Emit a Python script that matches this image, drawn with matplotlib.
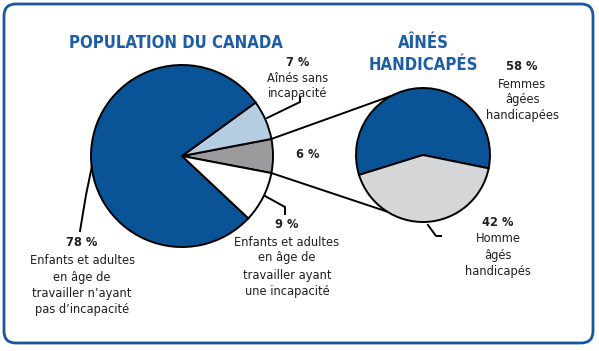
import numpy as np
import matplotlib
matplotlib.use("Agg")
import matplotlib.pyplot as plt
from matplotlib.patches import FancyBboxPatch

# ---- data ----
left_labels = ["Aînés handicapés", "Aînés sans incapacité",
               "Enfants et adultes en âge de travailler n'ayant pas d'incapacité",
               "Enfants et adultes en âge de travailler ayant une incapacité"]
left_values = [6, 7, 78, 9]
right_labels = ["Femmes âgées handicapées", "Homme âgés handicapés"]
right_values = [58, 42]

title_left = "POPULATION DU CANADA"
title_right = "AÎNÉS\nHANDICAPÉS"

plt.rcParams['font.family'] = ["DejaVu Sans"]
plt.rcParams['font.stretch'] = "condensed"

W, H = 599, 351
fig = plt.figure(figsize=(W / 100, H / 100), dpi=100)
ax = fig.add_axes([0, 0, 1, 1])

def Y(y):
    return H - y

DARK = "#0a5396"
LBLUE = "#b5cde0"
GRAY = "#9b9b9d"
LGRAY = "#d5d6d8"
TXT = "#231f20"
TITLE = "#1d5da6"

# left pie
lc = (182, Y(156)); lr = 91
start_l = -left_values[0] / 100 * 360 / 2
ax.pie(left_values, colors=[GRAY, LBLUE, DARK, "white"], startangle=start_l,
       counterclock=True, center=lc, radius=lr,
       wedgeprops=dict(edgecolor="black", linewidth=1.4))

# right pie
rc = (423, Y(155)); rr = 67
ax.pie(right_values, colors=[DARK, LGRAY], startangle=-11.5,
       counterclock=True, center=rc, radius=rr,
       wedgeprops=dict(edgecolor="black", linewidth=1.4))

def pt(c, r, ang):
    a = np.deg2rad(ang)
    return c[0] + r * np.cos(a), c[1] + r * np.sin(a)

# connectors
half = left_values[0] / 100 * 360 / 2
for la, ra in [(half, 117.8), (-half, 237.7)]:
    p1 = pt(lc, lr, la); p2 = pt(rc, rr, ra)
    ax.plot([p1[0], p2[0]], [p1[1], p2[1]], color="black", lw=1.4,
            solid_capstyle="butt")

# leader lines (image coords)
def leader(xs, ys):
    ax.plot(xs, [Y(v) for v in ys], color="black", lw=1.4)

leader([267, 300, 300], [118, 102, 97])
leader([265, 285, 285], [196, 207, 214])
leader([92, 86, 80], [166, 195, 231])
leader([428, 436, 441], [225, 236, 236])

# texts
def block(x, ys, num, lines, size=9.2):
    ax.text(x, Y(ys[0]), num, ha="center", va="center", fontsize=size,
            fontweight="bold", color=TXT)
    for yy, s in zip(ys[1:], lines):
        ax.text(x, Y(yy), s, ha="center", va="center", fontsize=size,
                color=TXT)

block(298, [62, 78, 94], f"{left_values[1]} %", ["Aînés sans", "incapacité"])
ax.text(308, Y(154), f"{left_values[0]} %", ha="center", va="center",
        fontsize=9.2, fontweight="bold", color=TXT)
block(287, [225, 242, 258, 275, 291], f"{left_values[3]} %",
      ["Enfants et adultes", "en âge de", "travailler ayant", "une incapacité"])
block(82, [243, 260, 277, 293, 310], f"{left_values[2]} %",
      ["Enfants et adultes", "en âge de", "travailler n’ayant", "pas d’incapacité"])
block(522, [67, 84, 100, 116], f"{right_values[0]} %",
      ["Femmes", "âgées", "handicapées"])
block(498, [222, 239, 255, 271], f"{right_values[1]} %",
      ["Homme", "âgés", "handicapés"])

ax.text(176, Y(43), title_left, ha="center", va="center", fontsize=12,
        fontweight="bold", color=TITLE)
for yy, s in zip([43, 65], title_right.split("\n")):
    ax.text(423, Y(yy), s, ha="center", va="center", fontsize=12,
            fontweight="bold", color=TITLE)

# frame
box = FancyBboxPatch((4, Y(343)), 589, 339,
                     boxstyle="round,pad=0,rounding_size=12",
                     fill=False, edgecolor="#1a56a0", lw=2.0)
ax.add_patch(box)

ax.set_xlim(0, W)
ax.set_ylim(0, H)
ax.set_aspect("equal")
ax.axis("off")
fig.savefig("out.png", dpi=100)
